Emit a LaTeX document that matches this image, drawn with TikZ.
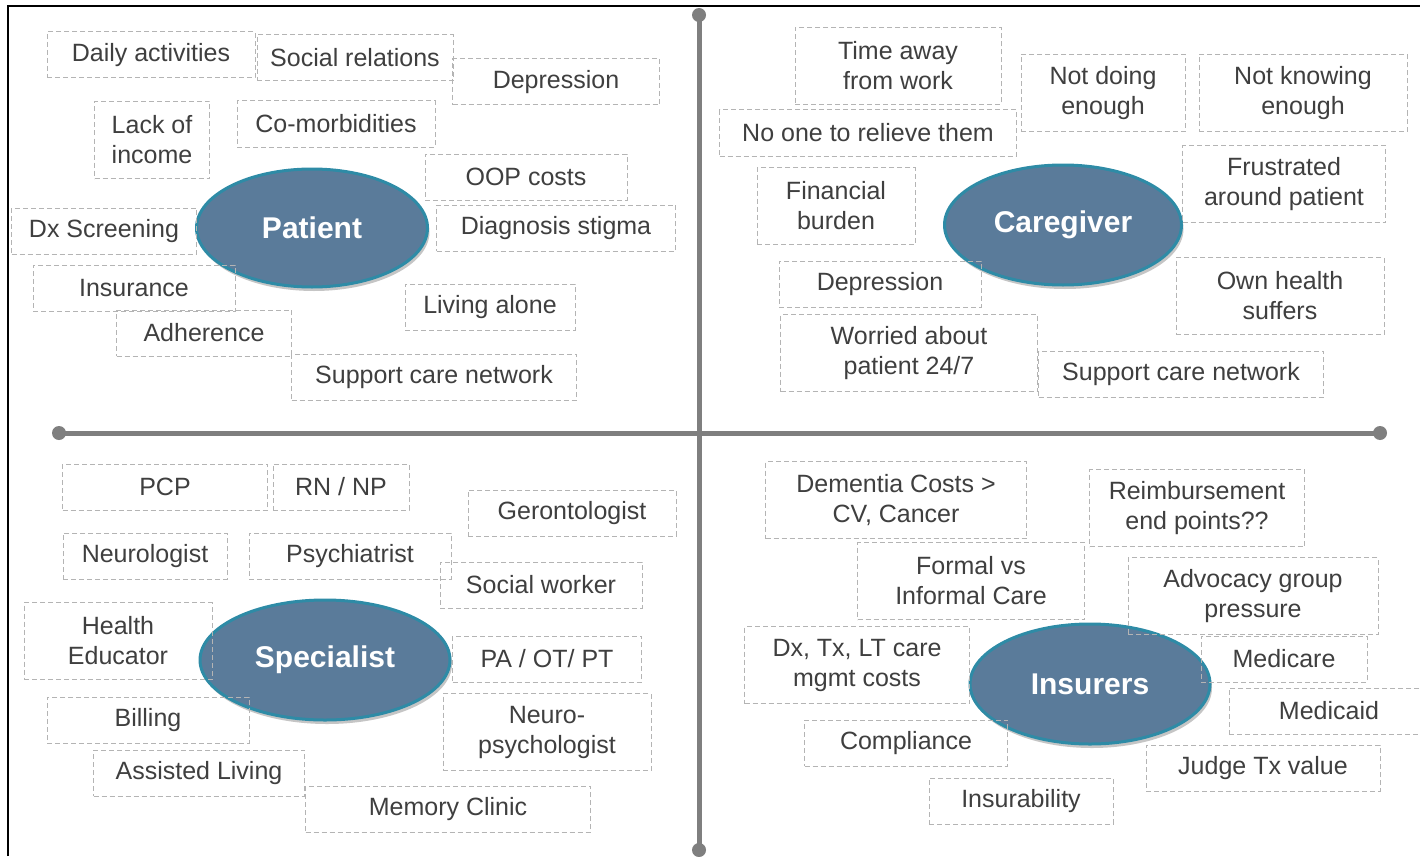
\documentclass[tikz,border=0pt]{standalone}
\usepackage{fontspec}
\setmainfont{Liberation Sans}
\usetikzlibrary{shapes.geometric,shadows}
\definecolor{ink}{HTML}{3F3F3F}
\definecolor{axisgray}{HTML}{7F7F7F}
\definecolor{boxgray}{HTML}{B4B4B4}
\definecolor{hubfill}{HTML}{5A7B9A}
\definecolor{hubrim}{HTML}{2E8BA6}
\tikzset{
	tag/.style={draw=boxgray, line width=1pt, dash pattern=on 5pt off 3pt, inner sep=0pt,
		minimum height=46pt, align=center, text=ink, font=\fontsize{25}{30}\selectfont},
	tall/.style={minimum height=77pt},
	hub/.style={ellipse, inner sep=0pt, fill=hubfill, draw=hubrim, line width=3pt,
		drop shadow={shadow xshift=2pt, shadow yshift=-4pt, fill=black!45},
		text=white, font=\fontsize{30}{36}\selectfont\bfseries},
	dot/.style={circle, fill=axisgray, inner sep=0pt, minimum size=14pt}
}
\begin{document}
\begin{tikzpicture}[x=1pt, y=-1pt]
	\useasboundingbox (0,0) rectangle (1420,856);
	\fill[white] (0,0) rectangle (1420,856);
	\draw[line width=2.5pt] (8,856) -- (8,6) -- (1420,6);
	% axes
	\node[dot] (n) at (699,15) {};
	\node[dot] (s) at (699,850) {};
	\node[dot] (w) at (59,433) {};
	\node[dot] (e) at (1380,433) {};
	\draw[axisgray, line width=5pt] (n.center) -- (s.center);
	\draw[axisgray, line width=5pt] (w.center) -- (e.center);
	% hubs
	\node[hub, minimum width=231pt, minimum height=118pt] (patient) at (312,228) {Patient};
	\node[hub, minimum width=237pt, minimum height=120pt] (caregiver) at (1063,225) {Caregiver};
	\node[hub, minimum width=250pt, minimum height=120pt] (specialist) at (325,660) {Specialist};
	\node[hub, minimum width=240pt, minimum height=120pt] (insurers) at (1090,684) {Insurers};
	% patient
	\node[tag, minimum width=208pt] (p1) at (151,55) {Daily activities};
	\node[tag, minimum width=196pt] (p2) at (355,58) {Social relations};
	\node[tag, minimum width=207pt] (p3) at (556,82) {Depression};
	\node[tag, tall, minimum width=115pt] (p4) at (152,140) {Lack of\\income};
	\node[tag, minimum width=198pt] (p5) at (336,124) {Co-morbidities};
	\node[tag, minimum width=202pt] (p6) at (526,177) {OOP costs};
	\node[tag, minimum width=185pt] (p7) at (104,231) {Dx Screening};
	\node[tag, minimum width=239pt] (p8) at (556,228) {Diagnosis stigma};
	\node[tag, minimum width=202pt] (p9) at (134,288) {Insurance};
	\node[tag, minimum width=175pt] (p10) at (204,333) {Adherence};
	\node[tag, minimum width=170pt] (p11) at (490,307) {Living alone};
	\node[tag, minimum width=285pt] (p12) at (434,377) {Support care network};
	% caregiver
	\node[tag, tall, minimum width=206pt] (c1) at (898,66) {Time away\\from work};
	\node[tag, tall, minimum width=164pt] (c2) at (1103,93) {Not doing\\enough};
	\node[tag, tall, minimum width=208pt] (c3) at (1303,93) {Not knowing\\enough};
	\node[tag, minimum width=297pt] (c4) at (868,133) {No one to relieve them};
	\node[tag, tall, minimum width=158pt] (c5) at (836,206) {Financial\\burden};
	\node[tag, tall, minimum width=203pt] (c6) at (1284,184) {Frustrated\\around patient};
	\node[tag, minimum width=202pt] (c7) at (880,284) {Depression};
	\node[tag, tall, minimum width=208pt] (c8) at (1280,296) {Own health\\suffers};
	\node[tag, tall, minimum width=257pt] (c9) at (909,353) {Worried about\\patient 24/7};
	\node[tag, minimum width=285pt] (c10) at (1181,374) {Support care network};
	% specialist
	\node[tag, minimum width=205pt] (s1) at (165,487) {PCP};
	\node[tag, minimum width=136pt] (s2) at (341,487) {RN / NP};
	\node[tag, minimum width=208pt] (s3) at (572,513) {Gerontologist};
	\node[tag, minimum width=164pt] (s4) at (145,556) {Neurologist};
	\node[tag, minimum width=202pt] (s5) at (350,556) {Psychiatrist};
	\node[tag, minimum width=202pt] (s6) at (541,585) {Social worker};
	\node[tag, tall, minimum width=188pt] (s7) at (118,641) {Health\\Educator};
	\node[tag, minimum width=189pt] (s8) at (547,659) {PA / OT/ PT};
	\node[tag, minimum width=202pt] (s9) at (148,720) {Billing};
	\node[tag, tall, minimum width=208pt] (s10) at (547,732) {Neuro-\\psychologist};
	\node[tag, minimum width=211pt] (s11) at (199,773) {Assisted Living};
	\node[tag, minimum width=285pt] (s12) at (448,809) {Memory Clinic};
	% insurers
	\node[tag, tall, minimum width=261pt] (i1) at (896,500) {Dementia Costs >\\CV, Cancer};
	\node[tag, tall, minimum width=215pt] (i2) at (1197,508) {Reimbursement\\end points??};
	\node[tag, tall, minimum width=227pt] (i3) at (971,581) {Formal vs\\Informal Care};
	\node[tag, tall, minimum width=250pt] (i4) at (1253,596) {Advocacy group\\pressure};
	\node[tag, tall, minimum width=225pt] (i5) at (857,665) {Dx, Tx, LT care\\mgmt costs};
	\node[tag, minimum width=166pt] (i6) at (1284,659) {Medicare};
	\node[tag, minimum width=200pt] (i7) at (1329,711) {Medicaid};
	\node[tag, minimum width=203pt] (i8) at (906,743) {Compliance};
	\node[tag, minimum width=234pt] (i9) at (1263,768) {Judge Tx value};
	\node[tag, minimum width=184pt] (i10) at (1021,801) {Insurability};
\end{tikzpicture}
\end{document}
